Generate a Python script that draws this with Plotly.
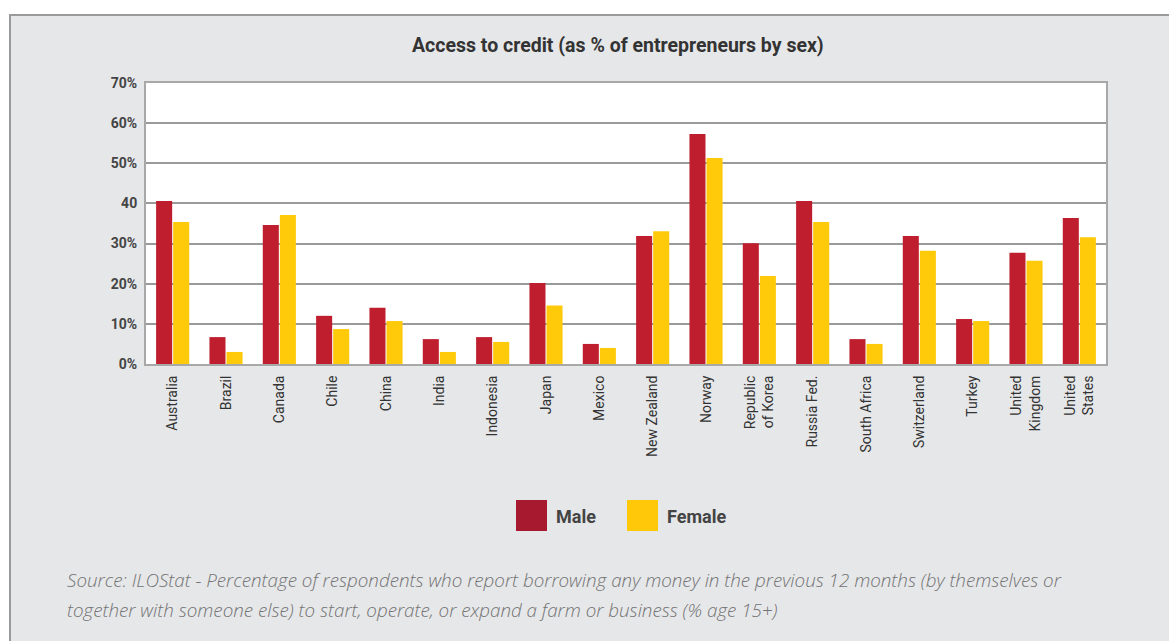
import plotly.graph_objects as go

countries = ["Australia", "Brazil", "Canada", "Chile", "China", "India", "Indonesia",
             "Japan", "Mexico", "New Zealand", "Norway", "Republic<br>of Korea",
             "Russia Fed.", "South Africa", "Switzerland", "Turkey",
             "United<br>Kingdom", "United<br>States"]
male = [40.6, 6.7, 34.6, 12.0, 14.0, 6.2, 6.7, 20.2, 5.0, 31.9, 57.3, 30.1,
        40.6, 6.2, 31.9, 11.2, 27.7, 36.4]
female = [35.4, 3.0, 37.1, 8.7, 10.7, 3.0, 5.5, 14.6, 4.0, 33.1, 51.3, 21.9,
          35.4, 5.0, 28.2, 10.7, 25.7, 31.6]
y_tickvals = [0, 10, 20, 30, 40, 50, 60, 70]
y_ticktext = ["0%", "10%", "20%", "30%", "40", "50%", "60%", "70%"]

MALE_C = "#be1e2d"
FEMALE_C = "#ffca0a"
FONT = "Roboto"

W, H = 1169, 641
L, R, T, B = 146, 63, 83, 277
PW, PH = W - L - R, H - T - B


def px(x):
    return (x - L) / PW


def py(y):
    return (H - B - y) / PH


fig = go.Figure()
fig.add_trace(go.Bar(x=countries, y=male, name="Male", marker_color=MALE_C,
                     marker_line_width=0, showlegend=False))
fig.add_trace(go.Bar(x=countries, y=female, name="Female", marker_color=FEMALE_C,
                     marker_line_width=0, showlegend=False))

shapes = [
    # outer grey panel
    dict(type="rect", xref="paper", yref="paper", x0=px(10), x1=px(1185),
         y0=py(660), y1=py(15), fillcolor="#e6e7e9",
         line=dict(color="#9a9a9a", width=2), layer="below"),
    # white plot area
    dict(type="rect", xref="paper", yref="paper", x0=0, x1=1, y0=0, y1=1,
         fillcolor="white", line=dict(width=0), layer="below"),
    # legend squares
    dict(type="rect", xref="paper", yref="paper", x0=px(516), x1=px(547),
         y0=py(531), y1=py(500), fillcolor="#a6192e", line=dict(width=0)),
    dict(type="rect", xref="paper", yref="paper", x0=px(627), x1=px(658),
         y0=py(531), y1=py(500), fillcolor="#ffc808", line=dict(width=0)),
]

SRC_FONT = dict(family="Open Sans", size=18.8, color="#737373", style="italic", weight=300)

annotations = [
    dict(text="Access to credit (as % of entrepreneurs by sex)", xref="paper",
         yref="paper", x=px(618), y=py(45), xanchor="center", yanchor="middle",
         showarrow=False, font=dict(family=FONT, size=19.5, color="#333333", weight="bold")),
    dict(text="Male", xref="paper", yref="paper", x=px(554), y=py(516),
         xanchor="left", yanchor="middle", showarrow=False,
         font=dict(family=FONT, size=18, color="#444444", weight="bold")),
    dict(text="Female", xref="paper", yref="paper", x=px(665), y=py(516),
         xanchor="left", yanchor="middle", showarrow=False,
         font=dict(family=FONT, size=18, color="#444444", weight="bold")),
    dict(text="Source: ILOStat - Percentage of respondents who report borrowing any money in the previous 12 months (by themselves or",
         xref="paper", yref="paper", x=px(65), y=py(580), xanchor="left", yanchor="middle",
         showarrow=False, font=SRC_FONT),
    dict(text="together with someone else) to start, operate, or expand a farm or business (% age 15+)",
         xref="paper", yref="paper", x=px(65), y=py(610), xanchor="left", yanchor="middle",
         showarrow=False, font=SRC_FONT),
]

fig.update_layout(
    width=W, height=H,
    margin=dict(l=L, r=R, t=T, b=B),
    paper_bgcolor="white",
    plot_bgcolor="rgba(0,0,0,0)",
    barmode="group",
    bargap=0.36,
    bargroupgap=0.06,
    shapes=shapes,
    annotations=annotations,
    showlegend=False,
    font=dict(family=FONT, color="#333333"),
)
fig.update_xaxes(
    tickangle=-90, tickfont=dict(family=FONT, size=14, color="#333333"),
    showline=True, linecolor="#a8a8a8", linewidth=2, mirror=True,
    showgrid=False, ticks="", ticklabelstandoff=4,
)
fig.update_yaxes(
    range=[0, 70], tickvals=y_tickvals, ticktext=y_ticktext,
    tickfont=dict(family=FONT, size=14, color="#444444", weight="bold"),
    showgrid=True, gridcolor="#9a9a9a", gridwidth=1.5,
    showline=True, linecolor="#a8a8a8", linewidth=2, mirror=True,
    ticks="", zeroline=False, ticklabelstandoff=4,
)

fig.write_html("out.html")
